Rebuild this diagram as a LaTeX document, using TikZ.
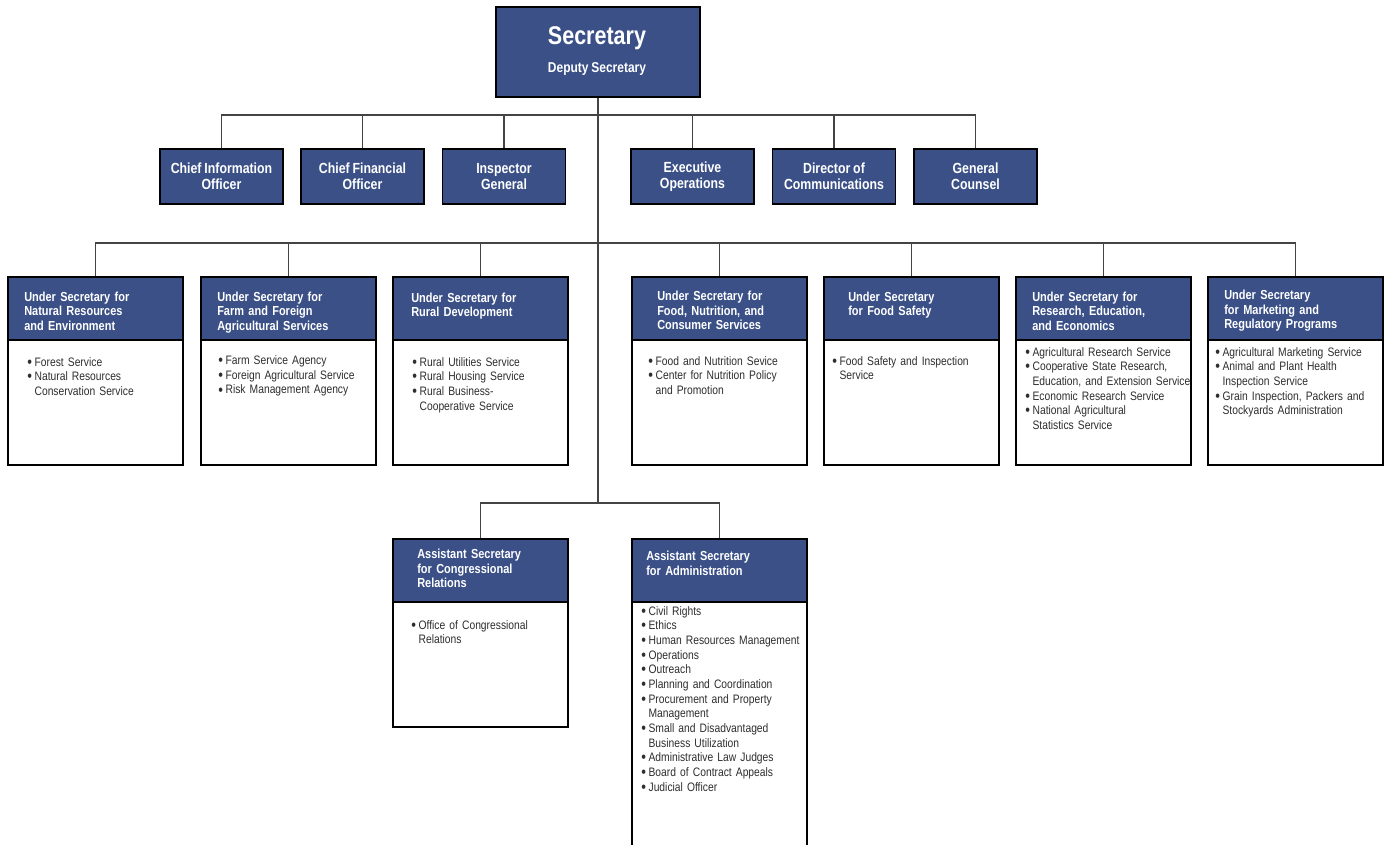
\documentclass[tikz,border=0pt]{standalone}
\usepackage{graphicx}
\usepackage{fontspec}
\setmainfont[FakeStretch=0.84,WordSpace=0.84]{Liberation Sans}
\definecolor{usblue}{HTML}{3A5087}
\definecolor{lnc}{HTML}{444444}
\definecolor{txtc}{HTML}{2E2E2E}
\newlength\bw \setlength\bw{5.5pt}
\newcommand\bl{\makebox[\bw][l]{\raisebox{-0.1em}{\scalebox{1.3}{\textbullet}}}}
\newcommand\cl{\hspace*{\bw}}
\newcommand\ubox[4]{%
  \node[bodyb,minimum height=#4*0.75pt] (b#1) at (#2,#3+63) {};
  \node[hdr] (h#1) at (#2,#3) {};}
\begin{document}
\begin{tikzpicture}[x=0.75pt,y=-0.75pt,
  conn/.style={draw=lnc,line width=1pt},
  secbox/.style={draw=black,line width=1.2pt,fill=usblue,minimum width=204*0.75pt,minimum height=90*0.75pt,inner sep=0},
  staff/.style={draw=black,line width=1.2pt,fill=usblue,text=white,font=\bfseries\fontsize{11}{12}\selectfont,align=center,minimum width=123*0.75pt,minimum height=55*0.75pt,inner sep=0},
  hdr/.style={draw=black,line width=1.2pt,fill=usblue,minimum width=175*0.75pt,minimum height=63*0.75pt,inner sep=0,anchor=north west},
  bodyb/.style={draw=black,line width=1.2pt,fill=white,minimum width=175*0.75pt,inner sep=0,anchor=north west},
  htxt/.style={text=white,font=\bfseries\fontsize{9.8}{10.9}\selectfont,align=left,text width=160pt,anchor=base west,inner sep=0},
  btxt/.style={text=txtc,font=\fontsize{9.2}{11}\selectfont,align=left,text width=160pt,anchor=base west,inner sep=0}]
\useasboundingbox (0,0) rectangle (1388,845);
\clip (0,0) rectangle (1388,845);
\fill[white] (0,0) rectangle (1388,845);

% coordinates of the bars
\coordinate (stbar) at (598,115);
\coordinate (usbar) at (598,243);
\coordinate (asbar) at (598,503);

% Secretary
\node[secbox] (sec) at (598,52) {};
\node[text=white,font=\bfseries\fontsize{19.2}{22}\selectfont,anchor=base,inner sep=0] (sect) at (597,45) {Secretary};
\node[text=white,font=\bfseries\fontsize{10.7}{12}\selectfont,anchor=base,inner sep=0] (dept) at (597,73) {Deputy Secretary};

% staff offices
\node[staff] (st1) at (221.5,176.5) {Chief Information\\Officer};
\node[staff] (st2) at (362.5,176.5) {Chief Financial\\Officer};
\node[staff] (st3) at (504,176.5) {Inspector\\General};
\node[staff] (st4) at (692.5,176.5) {Executive\\Operations};
\node[staff] (st5) at (834,176.5) {Director of\\Communications};
\node[staff] (st6) at (975.5,176.5) {General\\Counsel};

% under secretaries
\ubox{1}{7}{276}{125}
\ubox{2}{200}{276}{125}
\ubox{3}{392}{276}{125}
\ubox{4}{631}{276}{125}
\ubox{5}{823}{276}{125}
\ubox{6}{1015}{276}{125}
\ubox{7}{1207}{276}{125}
% assistant secretaries
\ubox{a1}{392}{538}{125}
\ubox{a2}{631}{538}{280}

% connectors
\draw[conn] (sec.south) -- (asbar);
\draw[conn] (st1.north) |- (stbar) -| (st6.north);
\foreach \n in {st2,st3,st4,st5} \draw[conn] (\n.north) -- (\n.north |- stbar);
\draw[conn] (h1.north) |- (usbar) -| (h7.north);
\foreach \n in {h2,h3,h4,h5,h6} \draw[conn] (\n.north) -- (\n.north |- usbar);
\draw[conn] (ha1.north) |- (asbar) -| (ha2.north);

% header texts
\node[htxt] (ht1) at (24,301) {Under Secretary for\\Natural Resources\\and Environment};
\node[htxt] (ht2) at (217,301) {Under Secretary for\\Farm and Foreign\\Agricultural Services};
\node[htxt] (ht3) at (411,302) {Under Secretary for\\Rural Development};
\node[htxt] (ht4) at (657,300.5) {Under Secretary for\\Food, Nutrition, and\\Consumer Services};
\node[htxt] (ht5) at (848,301) {Under Secretary\\for Food Safety};
\node[htxt] (ht6) at (1032,301) {Under Secretary for\\Research, Education,\\and Economics};
\node[htxt] (ht7) at (1224,299.5) {Under Secretary\\for Marketing and\\Regulatory Programs};
\node[htxt] (hta1) at (417,558.5) {Assistant Secretary\\for Congressional\\Relations};
\node[htxt] (hta2) at (646,560.5) {Assistant Secretary\\for Administration};

% body texts
\node[btxt] (bt1) at (27,366) {\bl Forest Service\\\bl Natural Resources\\\cl Conservation Service};
\node[btxt] (bt2) at (218,364.5) {\bl Farm Service Agency\\\bl Foreign Agricultural Service\\\bl Risk Management Agency};
\node[btxt] (bt3) at (412,366) {\bl Rural Utilities Service\\\bl Rural Housing Service\\\bl Rural Business-\\\cl Cooperative Service};
\node[btxt] (bt4) at (648,365) {\bl Food and Nutrition Sevice\\\bl Center for Nutrition Policy\\\cl and Promotion};
\node[btxt] (bt5) at (832,365) {\bl Food Safety and Inspection\\\cl Service};
\node[btxt] (bt6) at (1025,356) {\bl Agricultural Research Service\\\bl Cooperative State Research,\\\cl Education, and Extension Service\\\bl Economic Research Service\\\bl National Agricultural\\\cl Statistics Service};
\node[btxt] (bt7) at (1215,356) {\bl Agricultural Marketing Service\\\bl Animal and Plant Health\\\cl Inspection Service\\\bl Grain Inspection, Packers and\\\cl Stockyards Administration};
\node[btxt] (bta1) at (411,629) {\bl Office of Congressional\\\cl Relations};
\node[btxt] (bta2) at (641,615) {\bl Civil Rights\\\bl Ethics\\\bl Human Resources Management\\\bl Operations\\\bl Outreach\\\bl Planning and Coordination\\\bl Procurement and Property\\\cl Management\\\bl Small and Disadvantaged\\\cl Business Utilization\\\bl Administrative Law Judges\\\bl Board of Contract Appeals\\\bl Judicial Officer};
\end{tikzpicture}
\end{document}
